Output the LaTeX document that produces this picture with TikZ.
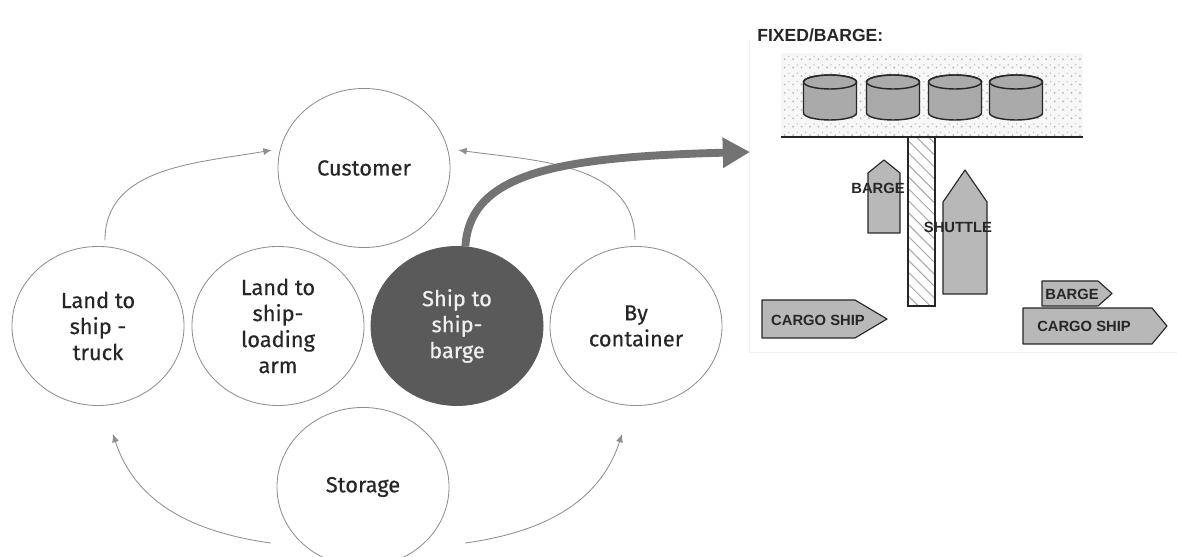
\documentclass[tikz,border=0pt]{standalone}
\usepackage{fontspec}
\setmainfont{Fira Sans}[UprightFeatures={FakeBold=0.45}]
\newfontfamily\tagfont{Liberation Sans}
\usetikzlibrary{arrows.meta,patterns.meta,shapes.geometric}

\definecolor{ringgray}{HTML}{8E8E8E}
\definecolor{inkgray}{HTML}{262626}
\definecolor{darkfill}{HTML}{5A5A5A}
\definecolor{shipgray}{HTML}{B8B8B8}
\definecolor{tankgray}{HTML}{AAAAAA}

\tikzset{
  stage/.style={ellipse, draw=ringgray, line width=0.6pt, minimum width=4.3cm,
    minimum height=3.975cm, inner sep=0pt, align=center, text=inkgray,
    font=\fontsize{15.5}{18.5}\selectfont},
  flow/.style={draw=ringgray, line width=0.6pt, -{Latex[length=6pt,width=5pt]}},
  ship/.style={fill=shipgray, draw=inkgray, line width=0.8pt, line join=round},
  shiptag/.style={text=inkgray, inner sep=0pt, font=\tagfont\bfseries\fontsize{10.5}{12}\selectfont}
}

\begin{document}
\begin{tikzpicture}[x=0.025cm,y=0.025cm]
  \useasboundingbox (0,0) rectangle (1177,557);

  % transport options
  \node[stage] (customer) at (364,389) {Customer};
  \node[stage] (truck) at (98,231) {Land to\\ship -\\truck};
  \node[stage] (arm) at (278,231) {Land to\\ship-\\loading\\arm};
  \node[stage, fill=darkfill, draw=darkfill, text=white!94!black] (barge) at (457,231) {Ship to\\ship-\\barge};
  \node[stage] (container) at (636,231) {By\\container};
  \node[stage] (storage) at (363,70) {Storage};

  \draw[flow] ([shift={(0,6)}]truck.85) to[out=90,in=190] ([shift={(-8,0)}]customer.168);
  \draw[flow] ([shift={(-1,6)}]container.90) to[out=90,in=-8] ([shift={(10,0)}]customer.12);
  \draw[flow] ([shift={(-6,-56)}]storage.west) to[out=172,in=-72] ([shift={(1,-29)}]truck.-80);
  \draw[flow] ([shift={(16,-56)}]storage.east) to[out=8,in=-108] ([shift={(0,-29)}]container.-100);

  % fixed / barge layout
  \draw[gray!12, line width=0.6pt] (749,517) -- (749,205) -- (1177,205);
  \node[anchor=west, inner sep=0pt, text=inkgray, font=\tagfont\bfseries\fontsize{12.5}{14}\selectfont]
    (layout) at (757,522) {FIXED/BARGE:};

  \fill[gray!6] (781,420) rectangle (1083,504);
  \fill[pattern={Dots[distance=6pt,radius=0.75pt]}, pattern color=gray!55] (781,420) rectangle (1083,504);
  \fill[pattern={Dots[distance=6pt,radius=0.6pt,xshift=3pt,yshift=2pt]}, pattern color=gray!45] (781,420) rectangle (1083,504);
  \draw[inkgray, line width=1.4pt] (781,420) -- (1083,420);

  \foreach \x in {830,893,955,1016} {
    \draw[fill=tankgray, draw=inkgray, line width=1pt]
      (\x-26.5,475) -- (\x-26.5,444) arc[start angle=180, end angle=360, x radius=26.5, y radius=7]
      -- (\x+26.5,475) arc[start angle=0, end angle=180, x radius=26.5, y radius=7] -- cycle;
    \draw[inkgray, line width=1pt] (\x,475) ellipse[x radius=26.5, y radius=7];
  }

  % jetty
  \draw[fill=white, draw=inkgray, line width=0.9pt] (908,251) rectangle (935,420);
  \fill[pattern={Lines[angle=-45,distance=6pt,line width=0.7pt]}, pattern color=gray!70] (908,251) rectangle (935,420);
  \draw[inkgray, line width=0.9pt] (908,251) rectangle (935,420);

  % vessels
  \draw[ship] (868,324) -- (868,384) -- (884,397) -- (900,384) -- (900,324) -- cycle;
  \draw[ship] (943,263) -- (943,355) -- (965,387) -- (987,355) -- (987,263) -- cycle;
  \draw[ship] (762,219) -- (855,219) -- (887,238) -- (855,257) -- (762,257) -- cycle;
  \draw[ship] (1042,251) -- (1098,251) -- (1112,263.5) -- (1098,276) -- (1042,276) -- cycle;
  \draw[ship] (1023,213) -- (1152,213) -- (1167,231) -- (1152,249) -- (1023,249) -- cycle;

  \node[shiptag] (bargetag) at (878,369) {BARGE};
  \node[shiptag] (shuttletag) at (958,330) {SHUTTLE};
  \node[shiptag] (cargoleft) at (818,237) {CARGO SHIP};
  \node[shiptag] (bargeright) at (1072,263) {BARGE};
  \node[shiptag] (cargoright) at (1084,231) {CARGO SHIP};

  % link to the layout
  \coordinate (panel) at (750,405);
  \draw[draw=darkfill!85, line width=5.6pt, -{Triangle[length=0.68cm,width=0.72cm]}]
    (barge.84) .. controls (470,385) and (560,400) .. (panel);
\end{tikzpicture}
\end{document}
